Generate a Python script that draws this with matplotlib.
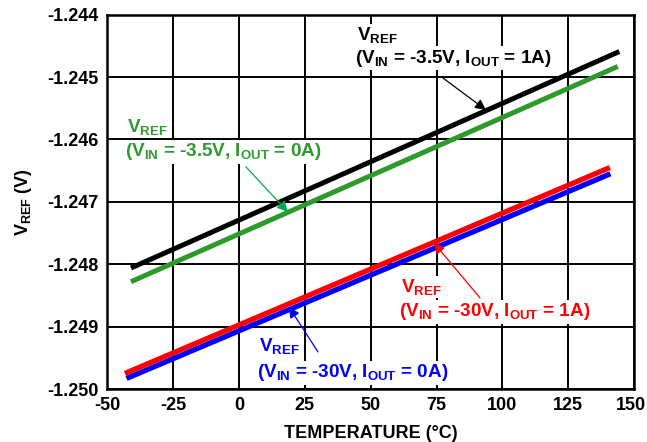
import matplotlib
matplotlib.use("Agg")
import matplotlib.pyplot as plt
from matplotlib.transforms import ScaledTranslation

# ---- data ----
temp_35v_1a = [-41.0, 144.4]
vref_35v_1a = [-1.24806, -1.24459]

temp_35v_0a = [-41.0, 143.8]
vref_35v_0a = [-1.24828, -1.24483]

temp_30v_1a = [-43.3, 140.8]
vref_30v_1a = [-1.24975, -1.24645]

temp_30v_0a = [-42.7, 141.0]
vref_30v_0a = [-1.24983, -1.24655]

x_ticks = [-50, -25, 0, 25, 50, 75, 100, 125, 150]
y_ticks = [-1.250, -1.249, -1.248, -1.247, -1.246, -1.245, -1.244]

# ---- style ----
plt.rcParams["font.family"] = ["Liberation Sans", "DejaVu Sans"]
plt.rcParams["font.weight"] = "bold"
plt.rcParams["mathtext.fontset"] = "custom"
plt.rcParams["mathtext.bf"] = "Liberation Sans:bold"
plt.rcParams["mathtext.rm"] = "Liberation Sans:bold"
plt.rcParams["mathtext.it"] = "Liberation Sans:bold"

GREEN = "#2e9a2e"
GREEN_ARROW = "#00aa55"
FS = 13.6

fig = plt.figure(figsize=(6.47, 4.42), dpi=100)
ax = fig.add_axes([0.1658, 0.1199, 0.8142, 0.8468])

ax.plot(temp_35v_1a, vref_35v_1a, color="black", lw=3.6, solid_capstyle="butt", zorder=4)
ax.plot(temp_35v_0a, vref_35v_0a, color=GREEN, lw=3.6, solid_capstyle="butt", zorder=4)
ax.plot(temp_30v_0a, vref_30v_0a, color="blue", lw=3.8, solid_capstyle="butt", zorder=4)
ax.plot(temp_30v_1a, vref_30v_1a, color="red", lw=3.8, solid_capstyle="butt", zorder=5)

ax.set_xlim(-50, 150)
ax.set_ylim(-1.250, -1.244)
ax.set_xticks(x_ticks)
ax.set_yticks(y_ticks)
ax.set_xticklabels([str(t) for t in x_ticks])
ax.set_yticklabels(["%.3f" % t for t in y_ticks])
ax.tick_params(length=0, labelsize=13, pad=6)
ax.grid(True, color="black", lw=1.4)
ax.set_axisbelow(True)
for s in ax.spines.values():
    s.set_linewidth(1.8)

# keep the last x label inside the picture
last = ax.get_xticklabels()[-1]
last.set_transform(last.get_transform() + ScaledTranslation(-3 / 100, 0, fig.dpi_scale_trans))

ax.set_xlabel("TEMPERATURE (°C)", fontsize=13, fontweight="bold", labelpad=8)
ax.set_ylabel(r"$\mathbf{V_{REF}}$ (V)", fontsize=13, fontweight="bold", labelpad=10)


def px(x, y):
    # pixel position in the 647x442 picture -> data coordinates
    return ((x - 107.3) / 2.634 - 50, -1.244 - (y - 14.7) / 62400.0)


box = dict(facecolor="white", edgecolor="none", pad=1.0)


def label(x, y1, y2, cond, color):
    ax.text(*px(x + 2, y1), r"$\mathbf{V_{REF}}$", color=color, fontsize=FS,
            ha="left", va="center", bbox=box, zorder=3)
    ax.text(*px(x, y2), cond, color=color, fontsize=FS,
            ha="left", va="center", bbox=box, zorder=3)


def arrow(tail, tip, color):
    ax.annotate("", xy=px(*tip), xytext=px(*tail),
                arrowprops=dict(arrowstyle="-|>", color=color, lw=0.9,
                                mutation_scale=16, shrinkA=0, shrinkB=0),
                zorder=6)


label(355, 35, 58, r"($\mathbf{V_{IN}}$ = -3.5V, $\mathbf{I_{OUT}}$ = 1A)", "black")
label(125, 127, 152, r"($\mathbf{V_{IN}}$ = -3.5V, $\mathbf{I_{OUT}}$ = 0A)", GREEN)
label(399, 287, 312, r"($\mathbf{V_{IN}}$ = -30V, $\mathbf{I_{OUT}}$ = 1A)", "red")
label(257, 346, 373, r"($\mathbf{V_{IN}}$ = -30V, $\mathbf{I_{OUT}}$ = 0A)", "blue")

arrow((443, 78), (486, 110), "black")
arrow((246, 167), (288, 212), GREEN_ARROW)
arrow((480, 298), (434, 243), "red")
arrow((318, 352), (289, 307), "blue")

fig.savefig("out.png", dpi=100)
